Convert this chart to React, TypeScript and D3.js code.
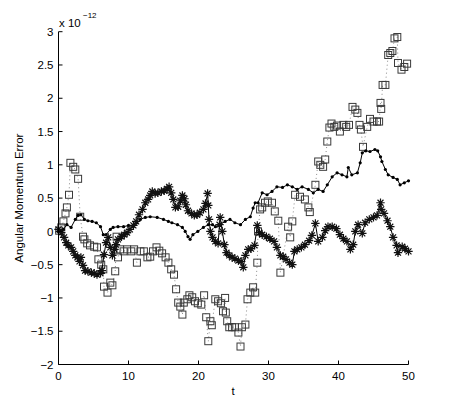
import React from 'react';
import * as d3 from 'd3';

// values in units of 1e-12
const squareSeries: [number, number][] = [
  [0.1, 0.01], [0.4, 0.06], [0.7, 0.15], [1.0, 0.27], [1.2, 0.36], [1.5, 0.55], [1.7, 1.03], [2.1, 0.97],
  [2.4, 0.93], [2.8, 0.79], [3.1, 0.22], [3.5, -0.08], [3.7, -0.12], [4.1, -0.18], [4.5, -0.21], [5.1, -0.23],
  [5.5, -0.24], [5.7, -0.42], [6.1, -0.5], [6.4, -0.57], [6.5, -0.83], [7.0, -0.92], [7.4, -0.77], [7.7, -0.81],
  [8.1, -0.6], [8.3, -0.08], [8.5, -0.39], [8.8, -0.27], [9.3, -0.3], [9.8, -0.27], [10.4, -0.3], [10.8, -0.27],
  [11.2, -0.47], [11.7, -0.3], [12.2, -0.3], [12.7, -0.39], [13.1, -0.38], [13.5, -0.3], [14.0, -0.24], [14.4, -0.29],
  [14.8, -0.33], [15.3, -0.39], [15.7, -0.47], [16.1, -0.57], [16.5, -0.65], [16.8, -0.87], [17.1, -1.07], [17.4, -1.13],
  [17.7, -1.25], [17.9, -1.07], [18.4, -1.02], [18.7, -0.96], [19.1, -0.99], [19.5, -1.05], [19.9, -1.08], [20.4, -1.1],
  [20.8, -0.96], [21.1, -1.29], [21.4, -1.65], [21.7, -1.35], [21.9, -1.41], [22.4, -1.02], [22.8, -1.05], [23.2, -1.08],
  [23.5, -1.2], [23.8, -1.0], [23.9, -1.22], [24.1, -1.35], [24.4, -1.44], [24.8, -1.44], [25.2, -1.44], [25.7, -1.52],
  [26.0, -1.73], [26.2, -1.44], [26.7, -1.4], [27.0, -1.02], [27.4, -0.92], [27.8, -0.84], [28.1, -0.92], [28.4, -0.47],
  [28.5, 0.0], [28.8, 0.33], [29.1, 0.36], [29.5, 0.43], [29.9, 0.45], [30.5, 0.43], [30.9, 0.3], [31.4, 0.16],
  [31.7, -0.62], [32.8, 0.07], [33.1, -0.09], [33.4, 0.15], [33.8, 0.55], [34.5, 0.52], [35.2, 0.48], [35.7, 0.36],
  [35.9, 0.29], [36.7, 0.7], [37.1, 1.05], [37.4, 1.0], [37.8, 0.97], [38.1, 1.08], [38.4, 1.35], [38.7, 1.56],
  [39.0, 1.62], [39.4, 1.57], [39.8, 1.59], [40.2, 1.5], [40.7, 1.6], [41.1, 1.57], [41.5, 1.6], [42.0, 1.87],
  [42.4, 1.83], [42.7, 1.78], [43.0, 1.6], [43.2, 1.53], [43.5, 1.27], [44.1, 1.57], [44.5, 1.69], [45.0, 1.65],
  [45.5, 1.65], [45.8, 1.65], [46.0, 1.93], [46.1, 1.84], [46.3, 2.2], [46.7, 2.2], [47.1, 2.65], [47.4, 2.68],
  [47.7, 2.71], [48.0, 2.9], [48.4, 2.92], [48.5, 2.53], [49.0, 2.43], [49.4, 2.47], [49.8, 2.52],
];

const dotSeries: [number, number][] = [
  [0, 0], [0.7, 0.03], [1.2, 0.1], [1.8, 0.06], [2.4, 0.18], [2.8, 0.24], [3.2, 0.25], [3.7, 0.18],
  [4.2, 0.16], [4.8, 0.15], [5.4, 0.13], [6.0, 0.07], [6.4, -0.05], [6.8, -0.05], [7.4, 0.03], [7.8, 0.06],
  [8.5, 0.07], [9.3, 0.07], [10.0, 0.09], [10.7, 0.07], [11.2, 0.13], [11.7, 0.18], [12.4, 0.21], [13.1, 0.22],
  [14.1, 0.21], [15.0, 0.18], [15.7, 0.15], [16.2, 0.13], [17.0, 0.1], [17.7, 0.06], [18.1, 0.0], [18.5, -0.08],
  [18.8, -0.12], [19.2, -0.05], [19.9, 0.0], [20.7, 0.06], [21.4, 0.1], [22.0, 0.1], [22.4, 0.07], [23.1, 0.1],
  [23.8, 0.15], [24.5, 0.18], [25.2, 0.13], [26.0, 0.1], [26.7, 0.18], [27.4, 0.22], [27.8, 0.35], [28.1, 0.43],
  [28.5, 0.43], [29.1, 0.58], [29.8, 0.55], [30.5, 0.6], [31.2, 0.67], [32.0, 0.66], [32.7, 0.7], [33.4, 0.67],
  [34.1, 0.63], [34.8, 0.67], [35.7, 0.63], [36.4, 0.58], [37.1, 0.63], [37.8, 0.6], [38.4, 0.7], [39.1, 0.82],
  [39.8, 0.88], [40.5, 0.85], [41.2, 0.82], [41.4, 0.96], [41.9, 0.85], [42.7, 0.88], [43.1, 1.03], [43.4, 1.18],
  [43.9, 1.21], [44.5, 1.2], [45.2, 1.23], [45.6, 1.21], [46.0, 1.12], [46.2, 1.05], [46.7, 0.93], [47.1, 0.85],
  [47.8, 0.81], [48.4, 0.78], [48.8, 0.7], [49.4, 0.73], [50.0, 0.76],
];

const starSeries: [number, number][] = [
  [0.0, 0.03], [0.4, -0.02], [0.8, -0.09], [1.1, -0.17], [1.4, -0.21], [1.8, -0.24], [2.1, -0.3], [2.4, -0.36],
  [2.7, -0.39], [3.0, -0.45], [3.2, -0.39], [3.5, -0.51], [3.8, -0.59], [4.2, -0.6], [4.7, -0.62], [5.1, -0.63],
  [5.5, -0.65], [6.0, -0.63], [6.2, -0.59], [6.5, -0.35], [6.8, -0.17], [7.1, -0.09], [7.4, -0.24], [7.7, -0.36],
  [8.0, -0.27], [8.2, -0.2], [8.5, -0.12], [9.0, -0.08], [9.4, -0.05], [9.8, -0.02], [10.2, 0.03], [10.7, 0.09],
  [11.1, 0.15], [11.5, 0.25], [12.0, 0.33], [12.4, 0.43], [12.8, 0.48], [13.1, 0.54], [13.4, 0.6], [13.8, 0.57],
  [14.2, 0.58], [14.7, 0.6], [15.1, 0.61], [15.5, 0.64], [15.8, 0.67], [16.1, 0.58], [16.4, 0.48], [16.7, 0.36],
  [17.1, 0.37], [17.4, 0.46], [17.7, 0.54], [18.0, 0.49], [18.2, 0.4], [18.5, 0.31], [19.0, 0.27], [19.4, 0.24],
  [19.8, 0.25], [20.2, 0.28], [20.7, 0.33], [21.0, 0.42], [21.3, 0.57], [21.4, 0.39], [21.5, 0.18], [21.7, 0.0],
  [22.0, -0.09], [22.4, -0.15], [22.8, -0.18], [23.0, 0.1], [23.1, 0.21], [23.4, 0.0], [23.7, -0.2], [24.0, -0.32],
  [24.4, -0.36], [24.8, -0.39], [25.2, -0.41], [25.7, -0.44], [26.1, -0.45], [26.4, -0.54], [26.7, -0.36], [27.1, -0.27],
  [27.5, -0.26], [28.0, -0.21], [28.4, 0.09], [28.7, -0.02], [29.1, -0.05], [29.7, -0.08], [30.2, -0.11], [30.8, -0.15],
  [31.2, -0.24], [31.7, -0.36], [32.1, -0.38], [32.5, -0.42], [33.0, -0.47], [33.4, -0.5], [33.7, -0.3], [34.1, -0.27],
  [34.7, -0.24], [35.2, -0.2], [35.8, -0.14], [36.2, -0.06], [36.7, 0.12], [37.1, -0.15], [37.7, -0.09], [38.1, 0.01],
  [38.5, 0.07], [39.1, 0.07], [39.7, 0.04], [40.2, -0.05], [40.7, -0.11], [41.2, -0.15], [41.7, -0.27], [42.1, -0.2],
  [42.4, 0.0], [42.8, 0.1], [43.4, -0.03], [43.8, 0.13], [44.4, 0.18], [45.0, 0.21], [45.5, 0.24], [46.0, 0.43],
  [46.1, 0.33], [46.5, 0.27], [47.0, 0.16], [47.4, 0.07], [47.8, -0.09], [48.3, -0.21], [48.5, -0.32], [49.1, -0.23],
  [49.5, -0.26], [50.0, -0.3],
];

const xTicks = [0, 10, 20, 30, 40, 50];
const yTicks = [-2, -1.5, -1, -0.5, 0, 0.5, 1, 1.5, 2, 2.5, 3];

const W = 450;
const H = 411;
const FONT = '"Liberation Sans", Arial, Helvetica, sans-serif';

const x = d3.scaleLinear().domain([0, 50]).range([58.5, 408.5]);
const y = d3.scaleLinear().domain([-2, 3]).range([364.5, 31.7]);

const line = d3.line<[number, number]>()
  .x(d => x(d[0]))
  .y(d => y(d[1]));

// matlab style '*' marker: a plus and a cross on top of each other
const starPath = (r: number) => {
  const d = r * Math.SQRT1_2;
  return `M${-r},0H${r}M0,${-r}V${r}M${-d},${-d}L${d},${d}M${-d},${d}L${d},${-d}`;
};

const App = () => {
  const left = x(0);
  const bottom = y(-2);
  return (
    <svg width={W} height={H} style={{ position: 'absolute', left: 0, top: 0, background: '#fff' }}
      fontFamily={FONT}>
      {/* squares with dotted line */}
      <path d={line(squareSeries) || ''} fill="none" stroke="#8a8a8a" strokeWidth={1}
        strokeDasharray="1,3" />
      {squareSeries.map((d, i) => (
        <rect key={'s' + i} x={x(d[0]) - 3.5} y={y(d[1]) - 3.5} width={7} height={7}
          fill="none" stroke="#3a3a3a" strokeWidth={1} />
      ))}

      {/* dots with solid line */}
      <path d={line(dotSeries) || ''} fill="none" stroke="#000" strokeWidth={1} />
      {dotSeries.map((d, i) => (
        <circle key={'d' + i} cx={x(d[0])} cy={y(d[1])} r={1.6} fill="#000" />
      ))}

      {/* asterisks with solid line */}
      <path d={line(starSeries) || ''} fill="none" stroke="#000" strokeWidth={1} />
      {starSeries.map((d, i) => (
        <path key={'a' + i} d={starPath(4.2)} transform={`translate(${x(d[0])},${y(d[1])})`}
          fill="none" stroke="#111" strokeWidth={1.2} />
      ))}

      {/* axes */}
      <line x1={left} x2={left} y1={y(3)} y2={bottom} stroke="#000" strokeWidth={1} />
      <line x1={left} x2={x(50)} y1={bottom} y2={bottom} stroke="#000" strokeWidth={1} />
      {yTicks.map(t => (
        <g key={'yt' + t}>
          <line x1={left} x2={left + 4} y1={y(t)} y2={y(t)} stroke="#000" strokeWidth={1} />
          <text x={left - 5} y={y(t)} dy="0.36em" textAnchor="end" fontSize={11.5}>
            {t < 0 ? '\u2212' + Math.abs(t) : String(t)}
          </text>
        </g>
      ))}
      {xTicks.map(t => (
        <g key={'xt' + t}>
          <line x1={x(t)} x2={x(t)} y1={bottom} y2={bottom - 4} stroke="#000" strokeWidth={1} />
          <text x={x(t)} y={bottom + 15} textAnchor="middle" fontSize={11.5}>{t}</text>
        </g>
      ))}

      {/* exponent */}
      <text x={59} y={27} fontSize={11.5}>x 10</text>
      <text x={83} y={18} fontSize={8}>−12</text>

      {/* labels */}
      <text x={233} y={395} textAnchor="middle" fontSize={11.5}>t</text>
      <text transform={`translate(23,${(y(3) + bottom) / 2}) rotate(-90)`} textAnchor="middle"
        fontSize={11.5}>Angular Momentum Error</text>
    </svg>
  );
};

export default App;
